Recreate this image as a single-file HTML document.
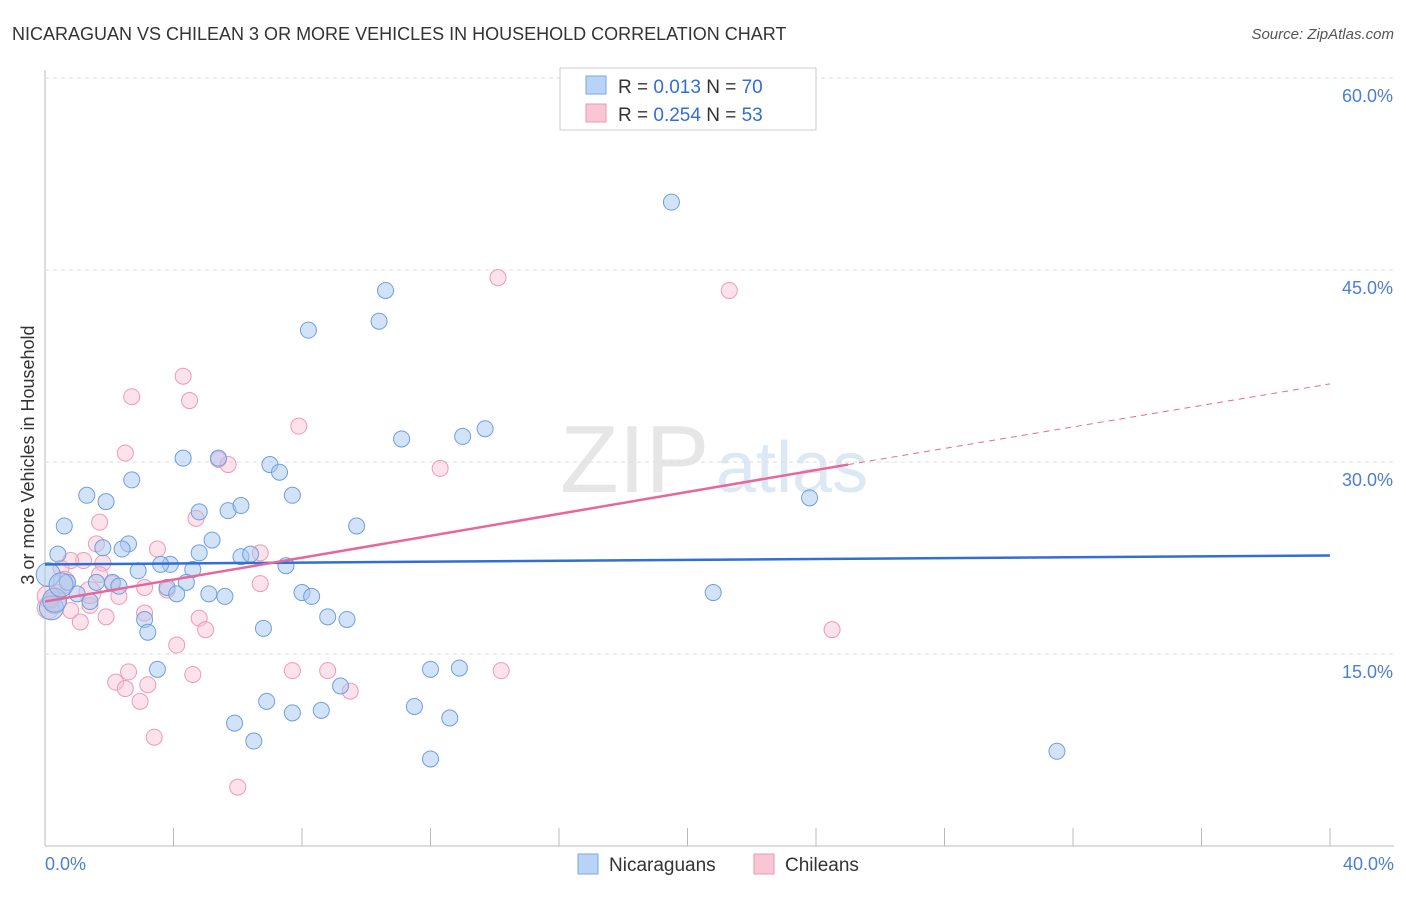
<!DOCTYPE html>
<html><head><meta charset="utf-8"><style>
body{margin:0;background:#fff;font-family:"Liberation Sans",sans-serif}
svg text{font-family:"Liberation Sans",sans-serif}
</style></head><body>
<svg id="c" width="1406" height="892" xmlns="http://www.w3.org/2000/svg">
<text x="12" y="40" font-size="18" fill="#333">NICARAGUAN VS CHILEAN 3 OR MORE VEHICLES IN HOUSEHOLD CORRELATION CHART</text>
<text x="1394" y="39" font-size="15" fill="#555" font-style="italic" text-anchor="end">Source: ZipAtlas.com</text>
<text x="560" y="492" font-size="96" fill="#e6e6e6" font-family="Liberation Serif">ZIP</text>
<text x="716" y="492" font-size="72" fill="#dde8f5">atlas</text>
<g id="grid"></g><g id="pts"></g><g id="lines"></g>
<text transform="translate(34,455) rotate(-90)" font-size="18" fill="#333" text-anchor="middle">3 or more Vehicles in Household</text>
<text x="45" y="870" font-size="18" fill="#4a7fd4">0.0%</text>
<text x="1394" y="870" font-size="18" fill="#4a7fd4" text-anchor="end">40.0%</text>
<g>
<rect x="560" y="68" width="256" height="62" fill="#fff" stroke="#ccc"/>
<rect x="586" y="76" width="20" height="18" fill="#b8d3f5" stroke="#7aa8e6"/>
<rect x="586" y="104" width="20" height="18" fill="#f9c6d5" stroke="#ee98b2"/>
<text x="618" y="93" font-size="19" fill="#333">R = <tspan fill="#2f6fd6">0.013</tspan>   N = <tspan fill="#2f6fd6">70</tspan></text>
<text x="618" y="121" font-size="19" fill="#333">R = <tspan fill="#2f6fd6">0.254</tspan>   N = <tspan fill="#2f6fd6">53</tspan></text>
</g>
<g>
<rect x="578" y="854" width="20" height="20" fill="#b8d3f5" stroke="#7aa8e6"/>
<text x="609" y="871" font-size="19" fill="#333">Nicaraguans</text>
<rect x="754" y="854" width="20" height="20" fill="#f9c6d5" stroke="#ee98b2"/>
<text x="785" y="871" font-size="19" fill="#333">Chileans</text>
</g>
</svg>
<script>
const yTicks=[15,30,45,60];
const yTickLabels=["15.0%","30.0%","45.0%","60.0%"];
const xTicks=[0,4,8,12,16,20,24,28,32,36,40];
const nicX=[19.5,10.6,8.2,10.4,11.1,13.0,13.7,4.3,5.4,7.0,7.3,7.7,2.7,1.3,1.9,0.6,4.8,5.7,6.1,9.7,23.8,1.8,2.6,2.4,0.4,5.2,6.1,6.4,4.8,3.9,3.6,7.5,4.6,2.9,0.7,1.6,2.1,2.3,1.0,4.4,3.8,4.1,5.1,5.6,8.0,8.3,1.4,20.8,3.1,3.2,6.8,8.8,9.4,3.5,12.0,12.9,9.2,6.9,7.7,8.6,11.5,12.6,5.9,6.5,12.0,31.5,0.2,0.3,0.1,0.5];
const nicY=[50.3,43.4,40.3,41.0,31.8,32.0,32.6,30.3,30.3,29.8,29.2,27.4,28.6,27.4,26.9,25.0,26.1,26.2,26.6,25.0,27.2,23.3,23.6,23.2,22.8,23.9,22.6,22.8,22.9,22.0,22.0,21.9,21.6,21.5,20.6,20.6,20.6,20.3,19.7,20.6,20.2,19.7,19.7,19.5,19.8,19.5,19.1,19.8,17.7,16.7,17.0,17.9,17.7,13.8,13.8,13.9,12.5,11.3,10.4,10.6,10.9,10.0,9.6,8.2,6.8,7.4,18.6,19.2,21.2,20.4];
const chiX=[14.1,21.3,4.3,4.5,2.7,7.9,2.5,5.4,5.7,12.3,1.7,4.7,1.6,3.5,6.7,1.2,1.8,0.8,0.5,1.7,2.1,2.3,3.1,3.8,6.7,0.4,0.2,0.8,1.4,1.1,1.9,3.1,4.8,5.0,4.1,2.6,4.6,7.7,8.8,14.2,2.2,2.5,3.2,9.5,2.96,24.5,3.4,6.0,0.1,0.3,0.6,1.4,0.1];
const chiY=[44.4,43.4,36.7,34.8,35.1,32.8,30.7,30.2,29.8,29.5,25.3,25.6,23.6,23.2,22.9,22.3,22.1,22.3,21.7,21.2,20.5,19.5,20.2,20.0,20.5,19.8,19.2,18.4,18.8,17.5,17.9,18.2,17.8,16.9,15.7,13.6,13.4,13.7,13.7,13.7,12.8,12.3,12.6,12.1,11.3,16.9,8.5,4.6,18.6,19.0,20.6,19.8,19.5];
const X0=45,X1=1330,Y0=846,Y60=78;
const sx=v=>X0+(X1-X0)*v/40, sy=v=>Y0-(Y0-Y60)*v/60;
const NS="http://www.w3.org/2000/svg";
function mk(t,a,p){const e=document.createElementNS(NS,t);for(const k in a)e.setAttribute(k,a[k]);p.appendChild(e);return e;}
const grid=document.getElementById('grid');
mk('line',{x1:X0,y1:70,x2:X0,y2:Y0,stroke:'#bbb'},grid);
mk('line',{x1:X0,y1:Y0,x2:1394,y2:Y0,stroke:'#bbb'},grid);
yTicks.forEach((t,i)=>{
 const l=mk('line',{x1:X0,y1:sy(t),x2:1394,y2:sy(t),stroke:'#ddd','stroke-dasharray':'4,4'},grid);
 
 
 const tx=mk('text',{x:1393,y:sy(t)+24,'font-size':18,fill:'#4a7fd4','text-anchor':'end'},grid);
 tx.textContent=yTickLabels[i];
 
 
});
xTicks.forEach(t=>{
 const l=mk('line',{x1:sx(t),y1:Y0-18,x2:sx(t),y2:Y0,stroke:'#bbb'},grid);
 
 
});
const pts=document.getElementById('pts');
chiX.forEach((x,i)=>{
 const c=mk('circle',{cx:sx(x),cy:sy(chiY[i]),r:i>=48?11:8,fill:'rgba(249,190,210,0.45)',stroke:'#ef9ab5','stroke-width':1},pts);
 
 
});
nicX.forEach((x,i)=>{
 const c=mk('circle',{cx:sx(x),cy:sy(nicY[i]),r:i>=66?12:8,fill:'rgba(168,200,240,0.5)',stroke:'#6d9fe0','stroke-width':1},pts);
 
 
});
const lines=document.getElementById('lines');
const bl=mk('line',{x1:sx(0),y1:sy(22.0),x2:sx(40),y2:sy(22.7),stroke:'#2f6fd6','stroke-width':2.5},lines);


const pl=mk('line',{x1:sx(0),y1:sy(19.1),x2:sx(25),y2:sy(29.8),stroke:'#e8679a','stroke-width':2.5},lines);


const pd=mk('line',{x1:sx(25),y1:sy(29.8),x2:sx(40),y2:sy(36.1),stroke:'#e8679a','stroke-width':1,'stroke-dasharray':'6,5'},lines);


</script>
</body></html>
